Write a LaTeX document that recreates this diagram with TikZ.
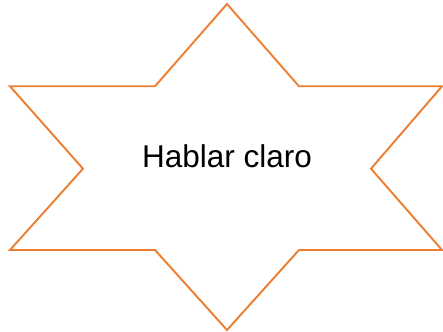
\documentclass[tikz,border=0pt]{standalone}
\usepackage{fontspec}
\setmainfont{Liberation Sans}
\definecolor{starorange}{HTML}{ED7D31}
\begin{document}
\begin{tikzpicture}[x=1pt,y=1pt,
  starline/.style={draw=starorange,line width=1.9pt,line join=miter},
  label/.style={font=\fontsize{31.5}{36}\selectfont,inner sep=0pt,anchor=base}]
\useasboundingbox (0,0) rectangle (443,331);
\coordinate (t) at (227,327);
\coordinate (tir) at (299,244.7);
\coordinate (ro1) at (442,244.7);
\coordinate (ri) at (371,162.3);
\coordinate (ro2) at (442,81);
\coordinate (bir) at (299,81);
\coordinate (b) at (227,1);
\coordinate (bil) at (155,81);
\coordinate (lo2) at (10,81);
\coordinate (li) at (83,162.3);
\coordinate (lo1) at (10,244.7);
\coordinate (til) at (155,244.7);
\draw[starline] (t) -- (tir) -- (ro1) -- (ri) -- (ro2) -- (bir) -- (b) -- (bil) -- (lo2) -- (li) -- (lo1) -- (til) -- cycle;
\node[label] (txt) at (227,163.3) {Hablar claro};
\end{tikzpicture}
\end{document}
